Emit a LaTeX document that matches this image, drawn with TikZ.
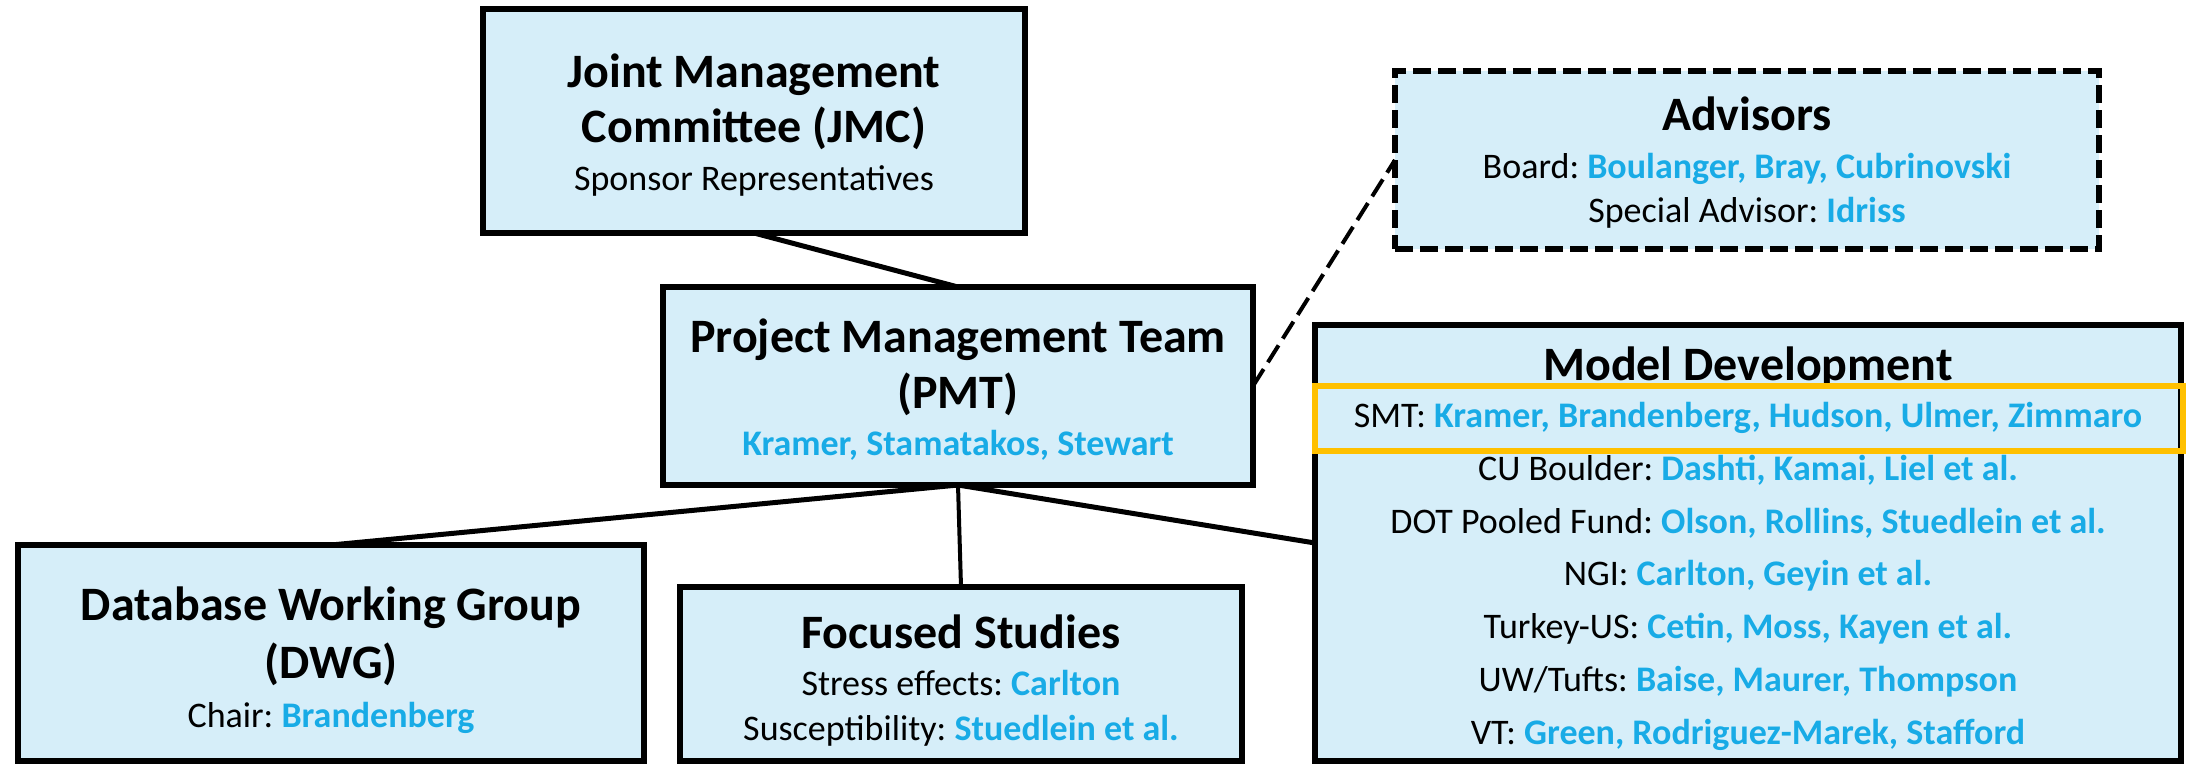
\documentclass[tikz,border=0pt]{standalone}
\usepackage{fontspec}
\setmainfont{Carlito}
\usetikzlibrary{fit}
\definecolor{boxfill}{HTML}{D6EEF9}
\definecolor{nameblue}{HTML}{18ABE6}
\definecolor{hlorange}{HTML}{FFC000}
\newcommand\bluenm[1]{\textcolor{nameblue}{\bfseries #1}}
\frenchspacing
\begin{document}
\begin{tikzpicture}[x=0.5pt,y=-0.5pt,
  box/.style={draw=black, fill=boxfill, line width=2.75pt, inner sep=0pt, outer sep=0pt},
  dbox/.style={box, dash pattern=on 9pt off 3.5pt},
  hl/.style={draw=hlorange, line width=3pt, inner sep=0pt, outer sep=0pt},
  conn/.style={draw=black, line width=2.5pt},
  thinconn/.style={draw=black, line width=2pt},
  dconn/.style={draw=black, line width=2pt, dash pattern=on 10pt off 4pt},
  lbl/.style={inner sep=0pt, outer sep=0pt, anchor=base, font=\frenchspacing},
  ttl/.style={lbl, font=\fontsize{24}{28}\selectfont\bfseries\frenchspacing},
  txt/.style={lbl, font=\fontsize{18}{22}\selectfont\frenchspacing}]
\useasboundingbox (0,0) rectangle (2188,766);
% boxes
\node[box, fit={(483,9) (1025,233)}] (jmc) {};
\node[box, fit={(663,287) (1253,485)}] (pmt) {};
\node[dbox, fit={(1395,71) (2099,249)}] (adv) {};
\node[box, fit={(1315,325) (2181,761)}] (md) {};
\node[box, fit={(18,545) (644,761)}] (dwg) {};
\node[box, fit={(680,587) (1242,761)}] (fs) {};
% connectors
\draw[conn] (jmc.south) -- (pmt.north);
\draw[conn] (pmt.south) -- (dwg.north);
\draw[thinconn] (pmt.south) -- (fs.north);
\draw[conn] (pmt.south) -- (md.west);
\draw[dconn] (pmt.east) -- (adv.west);
% JMC text
\node[ttl] (jmc1) at (754,87) {Joint Management};
\node[ttl] (jmc2) at (754,142) {Committee (JMC)};
\node[txt] (jmc3) at (754,190) {Sponsor Representatives};
% PMT text
\node[ttl] (pmt1) at (958,352) {Project Management Team};
\node[ttl] (pmt2) at (958,408) {(PMT)};
\node[txt] (pmt3) at (958,455) {\bluenm{Kramer, Stamatakos, Stewart}};
% Advisors text
\node[ttl] (adv1) at (1747,130) {Advisors};
\node[txt] (adv2) at (1747,178) {Board: \bluenm{Boulanger, Bray, Cubrinovski}};
\node[txt] (adv3) at (1747,222) {Special Advisor: \bluenm{Idriss}};
% Model development text
\node[ttl] (md1) at (1748,380) {Model Development};
\node[hl, fit={(1315,386) (2183,451)}] (smt) {};
\node[txt] (md2) at (1748,427.5) {SMT: \bluenm{Kramer, Brandenberg, Hudson, Ulmer, Zimmaro}};
\node[txt] (md3) at (1748,480.3) {CU Boulder: \bluenm{Dashti, Kamai, Liel et al.}};
\node[txt] (md4) at (1748,533.1) {DOT Pooled Fund: \bluenm{Olson, Rollins, Stuedlein et al.}};
\node[txt] (md5) at (1748,585.9) {NGI: \bluenm{Carlton, Geyin et al.}};
\node[txt] (md6) at (1748,638.7) {Turkey-US: \bluenm{Cetin, Moss, Kayen et al.}};
\node[txt] (md7) at (1748,691.5) {UW/Tufts: \bluenm{Baise, Maurer, Thompson}};
\node[txt] (md8) at (1748,744.3) {VT: \bluenm{Green, Rodriguez-Marek, Stafford}};
% DWG text
\node[ttl] (dwg1) at (331,620) {Database Working Group};
\node[ttl] (dwg2) at (331,678) {(DWG)};
\node[txt] (dwg3) at (331,727) {Chair: \bluenm{Brandenberg}};
% Focused studies text
\node[ttl] (fs1) at (961,648) {Focused Studies};
\node[txt] (fs2) at (961,695) {Stress effects: \bluenm{Carlton}};
\node[txt] (fs3) at (961,740) {Susceptibility: \bluenm{Stuedlein et al.}};
\end{tikzpicture}
\end{document}
